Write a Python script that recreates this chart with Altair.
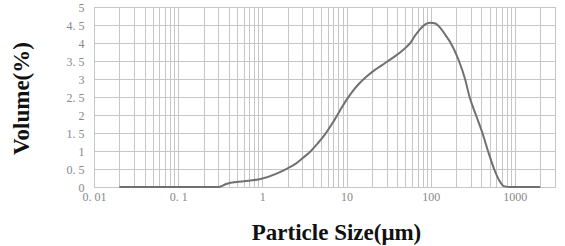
import altair as alt
import pandas as pd

# particle size (µm) and volume (%)
size_um = [0.02, 0.05, 0.1, 0.2, 0.3, 0.36, 0.42, 0.6, 0.95, 1.5, 2.0, 2.4, 3.0,
           3.7, 4.5, 5.5, 7.0, 9.0, 10, 12, 14, 17.6, 22, 27, 35, 44, 52, 58,
           65, 76, 88, 100, 114, 130, 150, 173, 200, 217, 256, 290, 345, 412,
           480, 567, 650, 713, 781, 850, 1000, 1500, 2000]
volume_pct = [0, 0, 0, 0, 0, 0.07, 0.12, 0.16, 0.22, 0.38, 0.52, 0.62, 0.8,
              0.98, 1.2, 1.45, 1.82, 2.25, 2.42, 2.68, 2.86, 3.08, 3.26, 3.4, 3.58, 3.75, 3.9, 4.02,
              4.2, 4.4, 4.53, 4.56, 4.54, 4.42, 4.22, 4.0, 3.7, 3.5, 3.0, 2.5, 2.0, 1.5,
              1.0, 0.5, 0.19, 0.05, 0.01, 0, 0, 0, 0]

decade_labels = [0.01, 0.1, 1, 10, 100, 1000]
x_grid = [0.01, 0.02, 0.03, 0.04, 0.05, 0.06, 0.07, 0.08, 0.09,
          0.1, 0.2, 0.3, 0.4, 0.5, 0.6, 0.7, 0.8, 0.9,
          1, 2, 3, 4, 5, 6, 7, 8, 9,
          10, 20, 30, 40, 50, 60, 70, 80, 90,
          100, 200, 300, 400, 500, 600, 700, 800, 900,
          1000, 2000, 3000]
y_ticks = [0, 0.5, 1, 1.5, 2, 2.5, 3, 3.5, 4, 4.5, 5]

df = pd.DataFrame({"size": size_um, "vol": volume_pct})

label_font = "Liberation Serif"
title_font = "Liberation Serif"

chart = alt.Chart(df).mark_line(color="#707070", strokeWidth=2, interpolate="monotone").encode(
    x=alt.X("size:Q",
            scale=alt.Scale(type="log", domain=[0.01, 3000], nice=False),
            axis=alt.Axis(values=x_grid, grid=True, ticks=False, domain=False,
                          labelExpr="indexof(" + str(decade_labels) + ", datum.value) >= 0 ? replace(format(datum.value, '~g'), '.', '. ') : ''",
                          labelOverlap=False, labelFlush=False, labelPadding=4,
                          labelFont=label_font, labelFontSize=12, labelColor="#888888",
                          gridColor="#c6c6c6", gridWidth=1,
                          title="Particle Size(μm)", titleFont=title_font, titleFontSize=23,
                          titleFontWeight="bold", titleColor="#111111",
                          titleX=242, titleY=52, titleBaseline="alphabetic", titleAlign="center")),
    y=alt.Y("vol:Q",
            scale=alt.Scale(domain=[0, 5], nice=False),
            axis=alt.Axis(values=y_ticks, grid=True, ticks=False, domain=False,
                          labelExpr="replace(format(datum.value, '~g'), '.', '. ')",
                          labelOverlap=False, labelFlush=False, labelPadding=10,
                          labelFont=label_font, labelFontSize=12, labelColor="#888888",
                          gridColor="#c6c6c6", gridWidth=1,
                          title="Volume(%)", titleFont=title_font, titleFontSize=23,
                          titleFontWeight="bold", titleColor="#111111",
                          titleAngle=-90, titleX=-66, titleY=91,
                          titleBaseline="alphabetic", titleAlign="center")),
).properties(
    width=461, height=180,
    autosize=alt.AutoSizeParams(type="none"),
    padding={"left": 94, "top": 7, "right": 10, "bottom": 59},
    background="white",
).configure_view(stroke="#b8b8b8", strokeWidth=1)

chart.save("out.html", embed_options={"renderer": "svg", "actions": False})
